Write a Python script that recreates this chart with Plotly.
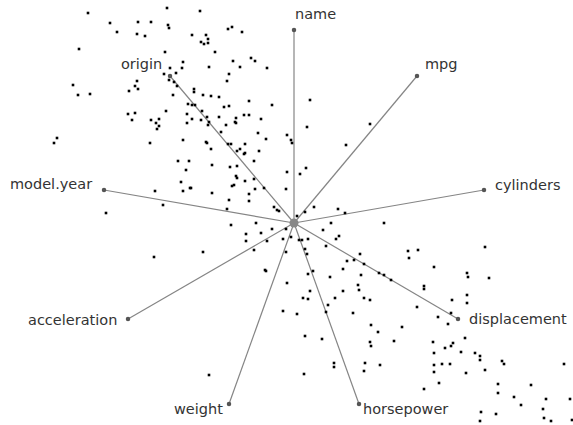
import plotly.graph_objects as go

# Projected observations (screen-like coordinates of the RadViz canvas)
pts_x = [88,167,110,138,151,168,169,117,137,145,79,165,183,182,170,176,164,169,174,177,137,135,138,129,73,78,90,173,188,166,128,135,132,151,156,159,159,157,187,187,57,54,183,
         200,192,206,208,201,204,208,228,232,242,215,233,251,255,267,240,209,229,227,194,194,203,211,219,249,272,224,229,192,195,202,192,201,207,209,208,219,226,236,235,236,244,249,261,258,266,287,310,307,370,221,206,291,292,
         150,178,189,186,181,183,190,155,163,106,154,
         207,228,231,245,211,240,237,244,245,259,346,212,230,237,254,287,306,300,236,237,245,232,234,254,191,212,249,255,264,286,229,249,227,274,277,279,314,338,345,297,305,231,256,246,246,261,272,286,267,283,291,299,302,308,331,323,339,336,203,254,286,307,326,305,360,347,354,364,343,361,379,265,266,313,308,330,287,
         384,408,418,409,434,485,467,468,489,384,391,
         310,303,308,283,297,305,322,209,304,343,335,328,326,358,359,364,370,353,371,378,370,371,334,334,365,364,380,
         424,424,452,467,467,417,438,448,451,402,394,433,434,445,451,453,461,465,475,480,480,485,502,504,564,434,442,450,434,466,439,424,498,498,531,514,521,546,570,543,481,496,544,551,480,572]
pts_y = [13,8,23,22,22,25,28,32,34,36,49,52,62,68,68,73,74,80,82,86,81,86,89,91,85,95,94,95,104,111,114,113,120,120,123,119,126,129,114,123,138,143,140,
         11,35,35,39,42,44,43,29,27,32,52,61,58,61,68,67,67,74,81,89,92,95,96,97,101,105,107,106,105,105,111,119,120,117,122,125,117,125,118,122,123,115,115,119,133,139,135,100,127,124,132,142,140,143,
         143,161,161,170,182,191,188,191,205,213,257,
         143,144,144,144,149,149,151,154,153,151,145,165,167,166,161,172,168,174,176,178,181,186,185,179,188,193,194,189,188,189,200,201,209,207,210,211,207,209,213,216,212,225,223,234,241,233,229,229,241,239,237,240,240,239,223,230,236,239,252,250,252,254,246,249,254,261,260,264,269,275,273,270,271,271,274,277,283,
         223,251,250,258,267,247,273,277,278,275,280,
         291,298,299,311,314,336,339,375,374,291,298,305,312,285,290,298,300,313,325,332,342,346,363,367,363,371,365,
         286,289,300,295,303,307,317,324,313,327,341,342,353,348,346,343,352,338,353,356,360,370,361,364,364,365,364,364,372,373,383,389,384,393,385,397,405,399,399,409,412,414,418,421,421,420]

# Dimension anchors
dims = ["name", "mpg", "cylinders", "displacement", "horsepower", "weight", "acceleration", "model.year", "origin"]
anchor_x = [294, 417, 484, 458, 359, 229, 128, 104, 170]
anchor_y = [30, 76, 190, 319, 404, 404, 319, 190, 76]
center_x = 294
center_y = 223

# label placement style: (xanchor, xshift, yshift)
label_style = {
    "name": ("left", -1, 16),
    "mpg": ("left", 6, 12),
    "cylinders": ("left", 9, 5),
    "displacement": ("left", 9, 0),
    "horsepower": ("left", 2, -5),
    "weight": ("right", -4, -5),
    "acceleration": ("right", -9, -1),
    "model.year": ("right", -10, 6),
    "origin": ("right", -6, 12),
}

fig = go.Figure()

# spokes
for d, ax, ay in zip(dims, anchor_x, anchor_y):
    fig.add_trace(go.Scatter(x=[center_x, ax], y=[center_y, ay], mode="lines",
                             line=dict(color="#858585", width=1.2), hoverinfo="skip", showlegend=False))

fig.add_trace(go.Scatter(x=pts_x, y=pts_y, mode="markers",
                         marker=dict(symbol="square", size=2.6, color="black", line=dict(width=0)),
                         showlegend=False))

fig.add_trace(go.Scatter(x=anchor_x, y=anchor_y, mode="markers",
                         marker=dict(size=4.5, color="#555555"), showlegend=False))
fig.add_trace(go.Scatter(x=[center_x], y=[center_y], mode="markers",
                         marker=dict(size=9, color="#888888"), showlegend=False))

for d, ax, ay in zip(dims, anchor_x, anchor_y):
    xa, xs, ys = label_style[d]
    fig.add_annotation(x=ax, y=ay, text=d, showarrow=False, xanchor=xa, yanchor="middle",
                       xshift=xs, yshift=ys,
                       font=dict(family="DejaVu Sans", size=14.5, color="#333333"))

fig.update_layout(
    width=573, height=425,
    margin=dict(l=0, r=0, t=0, b=0),
    paper_bgcolor="white", plot_bgcolor="white",
    xaxis=dict(range=[0, 573], visible=False, fixedrange=True),
    yaxis=dict(range=[425, 0], visible=False, fixedrange=True),
)

fig.write_html("out.html", config={"displayModeBar": False},
               post_script="document.body.style.margin='0';document.body.style.overflow='hidden';")
